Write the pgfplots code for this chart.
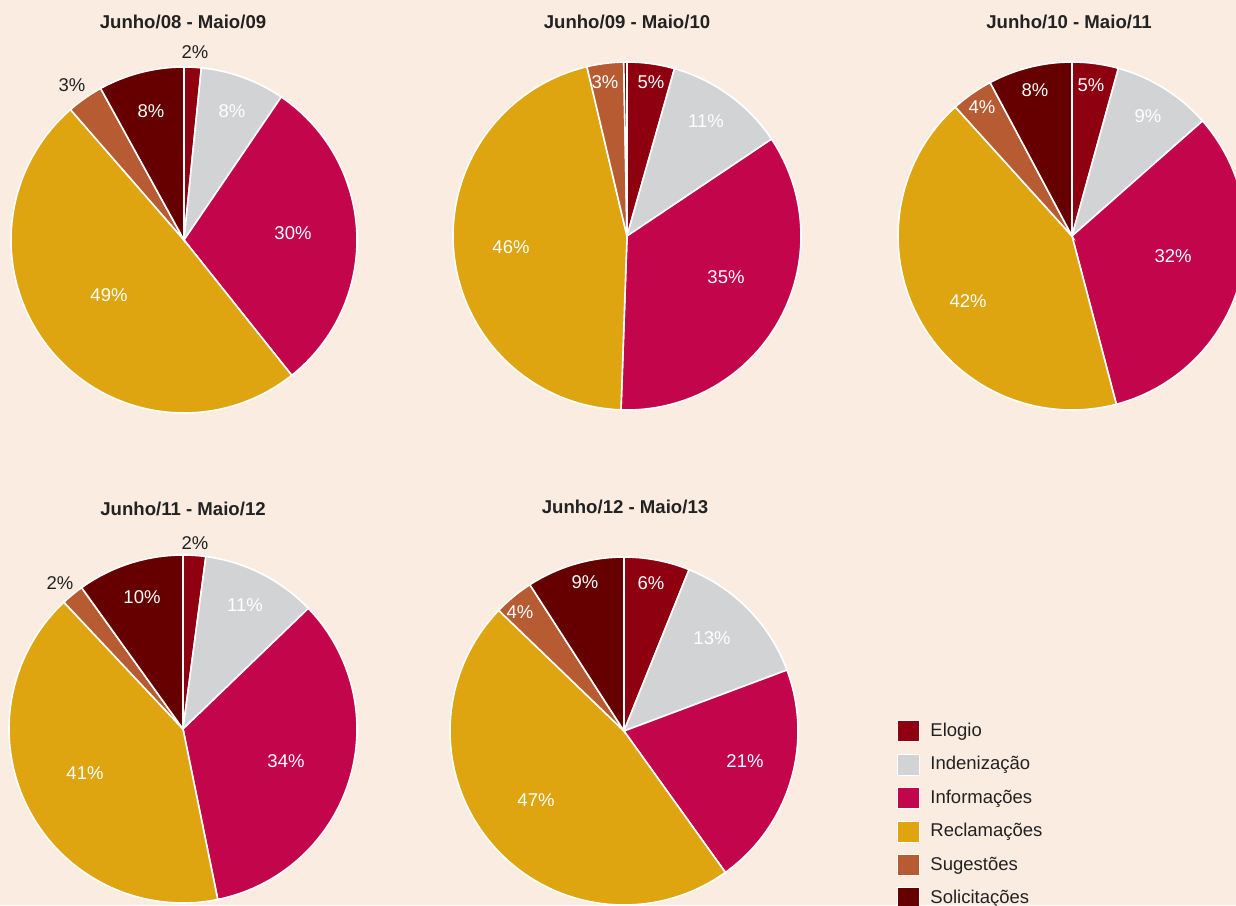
\documentclass[border=0pt]{standalone}
\usepackage{pgfplots}
\pgfplotsset{compat=1.18}
\usepackage{fontspec}
\setmainfont{Liberation Sans}
\definecolor{bg}{HTML}{FBECE2}
\definecolor{elogio}{HTML}{8E0010}
\definecolor{indeniz}{HTML}{D2D3D5}
\definecolor{info}{HTML}{C3064C}
\definecolor{recl}{HTML}{DEA510}
\definecolor{sug}{HTML}{B75B33}
\definecolor{sol}{HTML}{660000}
\definecolor{txt}{HTML}{222222}
% slice: cx, cy, r, start %, end %, colour
\newcommand{\slice}[6]{%
  \addplot[fill=#6, draw=white, line width=0.8pt, domain=#4*3.6:#5*3.6, samples=80, forget plot]
    ({#1+#3*sin(x)},{#2-#3*cos(x)}) -- (#1,#2) -- cycle;}
% pie: cx, cy, r, then cumulative boundaries (%)
\newcommand{\pie}[9]{%
  \slice{#1}{#2}{#3}{#4}{#5}{elogio}%
  \slice{#1}{#2}{#3}{#5}{#6}{indeniz}%
  \slice{#1}{#2}{#3}{#6}{#7}{info}%
  \slice{#1}{#2}{#3}{#7}{#8}{recl}%
  \slice{#1}{#2}{#3}{#8}{#9}{sug}%
  \pieend{#1}{#2}{#3}{#9}}
\newcommand{\pieend}[4]{\slice{#1}{#2}{#3}{#4}{100}{sol}}
\begin{document}
\begin{tikzpicture}[font=\fontsize{9.25pt}{11pt}\selectfont]
\begin{axis}[
  scale only axis, width=618pt, height=452.5pt,
  xmin=0, xmax=1236, ymin=0, ymax=905, y dir=reverse,
  hide axis, clip=true,
  legend style={at={(axis cs:897,718.5)}, anchor=north west, draw=none, fill=none,
    font=\fontsize{9.25pt}{11pt}\selectfont, text=txt, row sep=4.55pt,
    legend cell align=left, inner sep=0pt,
    /tikz/every odd column/.append style={column sep=3pt}},
  legend image code/.code={\draw[#1, draw=white, line width=0.5pt] (0pt,-5.3pt) rectangle (11pt,5.3pt);},
]
\fill[bg] (rel axis cs:0,0) rectangle (rel axis cs:1,1);
% Junho/08 - Maio/09
\pie{184}{240}{173}{0}{1.6}{9.5}{39.3}{88.6}{92.0}
% Junho/09 - Maio/10
\pie{627}{236}{174}{0}{4.4}{15.6}{50.55}{96.3}{99.7}
% Junho/10 - Maio/11
\pie{1072}{236}{174}{0}{4.3}{13.5}{45.9}{88.3}{92.2}
% Junho/11 - Maio/12
\pie{183}{729}{174}{0}{2.1}{12.8}{46.8}{88.0}{90.1}
% Junho/12 - Maio/13
\pie{624}{731}{174}{0}{6.1}{19.3}{40.1}{87.2}{90.9}

\addlegendimage{fill=elogio}\addlegendentry{Elogio}
\addlegendimage{fill=indeniz}\addlegendentry{Indenização}
\addlegendimage{fill=info}\addlegendentry{Informações}
\addlegendimage{fill=recl}\addlegendentry{Reclamações}
\addlegendimage{fill=sug}\addlegendentry{Sugestões}
\addlegendimage{fill=sol}\addlegendentry{Solicitações}

% titles
\begin{scope}[every node/.style={text=txt, font=\fontsize{9.3pt}{11pt}\selectfont\bfseries}]
\node at (183,22) {Junho/08 - Maio/09};
\node at (627,22) {Junho/09 - Maio/10};
\node at (1069,22) {Junho/10 - Maio/11};
\node at (183,509) {Junho/11 - Maio/12};
\node at (625,507) {Junho/12 - Maio/13};
\end{scope}
% outside labels
\begin{scope}[every node/.style={text=txt}]
\node at (195,52) {2\%};
\node at (72,85) {3\%};
\node at (195,543) {2\%};
\node at (60,583) {2\%};
\end{scope}
% inside labels
\begin{scope}[every node/.style={text=white}]
\node at (232,111) {8\%};
\node at (293,233) {30\%};
\node at (109,295) {49\%};
\node at (151,111) {8\%};
\node at (651,82) {5\%};
\node at (706,121) {11\%};
\node at (726,277) {35\%};
\node at (511,247) {46\%};
\node at (605,82) {3\%};
\node at (1091,85) {5\%};
\node at (1148,116) {9\%};
\node at (1173,256) {32\%};
\node at (968,301) {42\%};
\node at (982,107) {4\%};
\node at (1035,90) {8\%};
\node at (245,605) {11\%};
\node at (286,761) {34\%};
\node at (85,773) {41\%};
\node at (142,597) {10\%};
\node at (651,583) {6\%};
\node at (712,638) {13\%};
\node at (745,761) {21\%};
\node at (536,800) {47\%};
\node at (520,612) {4\%};
\node at (585,582) {9\%};
\end{scope}
\end{axis}
\pgfresetboundingbox
\path (current axis.south west) rectangle (current axis.north east);
\end{tikzpicture}
\end{document}
